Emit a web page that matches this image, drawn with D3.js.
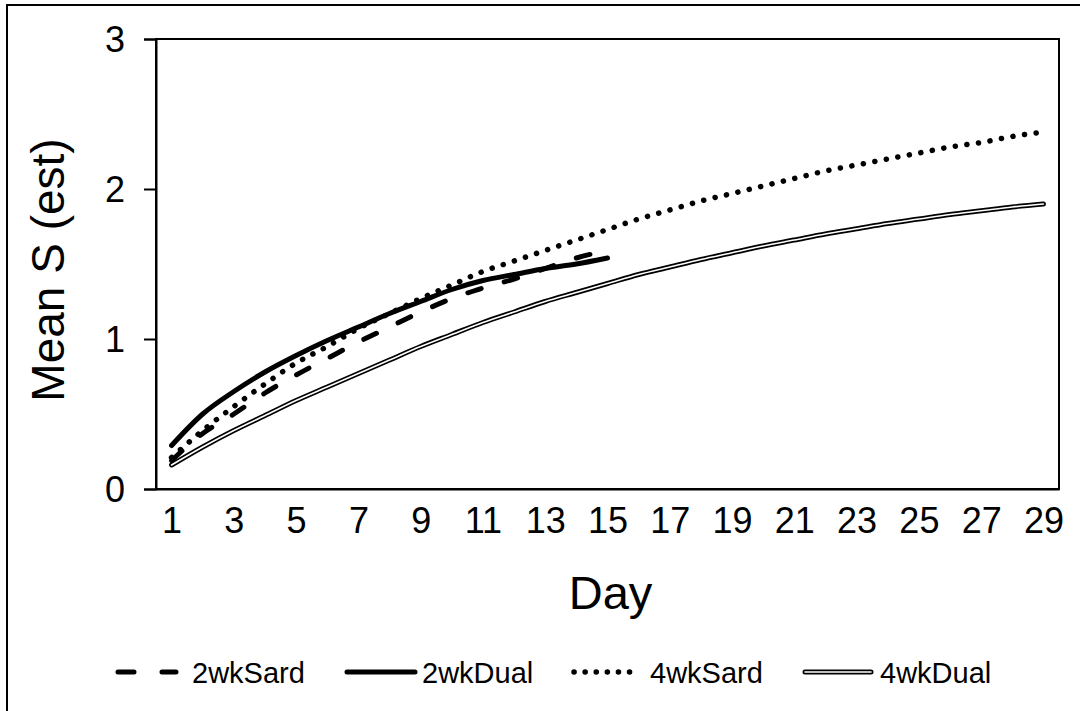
<!DOCTYPE html>
<html lang="en">
<head>
    <meta charset="utf-8">
    <script src="https://d3js.org/d3.v7.min.js"></script>
    <style>
        body { margin: 0; background: #fff; }
        text { font-family: "Liberation Sans", Arial, sans-serif; fill: #000; }
    </style>
</head>
<body>
    <svg></svg>
    <script>
        // values, one per day
        const days = d3.range(1, 30)
        const sard2wk = [0.19, 0.37, 0.50, 0.64, 0.76, 0.87, 0.98, 1.08, 1.18, 1.27, 1.34, 1.40, 1.47, 1.54, 1.59]
        const dual2wk = [0.29, 0.50, 0.65, 0.78, 0.89, 0.99, 1.08, 1.17, 1.25, 1.33, 1.39, 1.43, 1.47, 1.50, 1.54]
        const sard4wk = [0.21, 0.39, 0.55, 0.70, 0.84, 0.95, 1.07, 1.17, 1.27, 1.36, 1.45, 1.52, 1.59, 1.66, 1.73,
                         1.80, 1.86, 1.92, 1.97, 2.02, 2.07, 2.12, 2.16, 2.20, 2.24, 2.28, 2.31, 2.35, 2.38]
        const dual4wk = [0.16, 0.28, 0.39, 0.49, 0.59, 0.68, 0.77, 0.86, 0.95, 1.03, 1.11, 1.18, 1.25, 1.31, 1.37,
                         1.43, 1.48, 1.53, 1.575, 1.62, 1.66, 1.70, 1.735, 1.77, 1.80, 1.83, 1.855, 1.88, 1.90]
        const seriesNames = ['2wkSard', '2wkDual', '4wkSard', '4wkDual']
        const xTickDays = days.filter(d => d % 2 === 1)
        const yTicks = [0, 1, 2, 3]

        const W = 1080, H = 711
        const plotL = 156, plotR = 1059, plotT = 39, plotB = 489

        const svg = d3.select('svg').attr('width', W).attr('height', H)

        // outer frame
        svg.append('rect')
            .attr('x', 7).attr('y', 5)
            .attr('width', W).attr('height', H)
            .attr('fill', 'none').attr('stroke', '#000').attr('stroke-width', 2)

        const x = d3.scalePoint().domain(days).range([plotL, plotR]).padding(0.5)
        const y = d3.scaleLinear().domain([0, 3]).range([plotB, plotT])

        // plot box
        svg.append('rect')
            .attr('x', plotL).attr('y', plotT)
            .attr('width', plotR - plotL).attr('height', plotB - plotT)
            .attr('fill', 'none').attr('stroke', '#000').attr('stroke-width', 2)

        const yAxis = svg.append('g')
            .attr('transform', `translate(${plotL},0)`)
            .call(d3.axisLeft(y).tickValues(yTicks).tickFormat(d3.format('d')).tickSize(12).tickPadding(19))
        yAxis.select('.domain').attr('stroke-width', 2)
        yAxis.selectAll('.tick line').attr('stroke-width', 2)
        yAxis.selectAll('.tick text').attr('font-size', 36).attr('dy', '0.35em')

        const xAxis = svg.append('g')
            .attr('transform', `translate(0,${plotB})`)
            .call(d3.axisBottom(x).tickValues(xTickDays).tickSize(0).tickPadding(18))
        xAxis.select('.domain').attr('stroke-width', 2)
        xAxis.selectAll('.tick text').attr('font-size', 36).attr('dy', '0.71em')

        svg.append('text')
            .attr('x', (plotL + plotR) / 2 + 3).attr('y', 609)
            .attr('text-anchor', 'middle').attr('font-size', 47)
            .text('Day')

        svg.append('text')
            .attr('transform', 'translate(64,270) rotate(-90)')
            .attr('text-anchor', 'middle').attr('font-size', 46)
            .text('Mean S (est)')

        const line = d3.line()
            .x((v, i) => x(days[i]))
            .y(v => y(v))
            .curve(d3.curveMonotoneX)

        const styles = [
            { w: 5, dash: '14 24' },
            { w: 5, dash: null },
            { w: 5.5, dash: '0.1 11.6' },
            { w: 5, dash: null, double: true }
        ]
        const seriesData = [sard2wk, dual2wk, sard4wk, dual4wk]

        function stroke(sel, st) {
            sel.attr('fill', 'none').attr('stroke', '#000')
                .attr('stroke-width', st.w)
                .attr('stroke-linecap', 'round').attr('stroke-linejoin', 'round')
            if (st.dash) sel.attr('stroke-dasharray', st.dash)
            return sel
        }

        // draw in order so the 2wk lines sit on top
        const order = [3, 2, 0, 1]
        for (const i of order) {
            stroke(svg.append('path').attr('d', line(seriesData[i])), styles[i])
            if (styles[i].double) {
                svg.append('path').attr('d', line(seriesData[i]))
                    .attr('fill', 'none').attr('stroke', '#fff').attr('stroke-width', 1.6)
                    .attr('stroke-linecap', 'round')
            }
        }

        // legend
        const legendY = 672
        const legendItems = [
            { x1: 118, x2: 176, tx: 192, dash: '16 28' },
            { x1: 347, x2: 415, tx: 422 },
            { x1: 574, x2: 640, tx: 650, dash: '0.1 11' },
            { x1: 805, x2: 871, tx: 880 }
        ]
        legendItems.forEach((it, i) => {
            const st = Object.assign({}, styles[i], it.dash ? { dash: it.dash } : {})
            stroke(svg.append('line')
                .attr('x1', it.x1).attr('x2', it.x2)
                .attr('y1', legendY).attr('y2', legendY), st)
            if (st.double) {
                svg.append('line')
                    .attr('x1', it.x1).attr('x2', it.x2)
                    .attr('y1', legendY).attr('y2', legendY)
                    .attr('stroke', '#fff').attr('stroke-width', 1.6).attr('stroke-linecap', 'round')
            }
            svg.append('text')
                .attr('x', it.tx).attr('y', legendY + 11)
                .attr('font-size', 29)
                .text(seriesNames[i])
        })
    </script>
</body>
</html>
